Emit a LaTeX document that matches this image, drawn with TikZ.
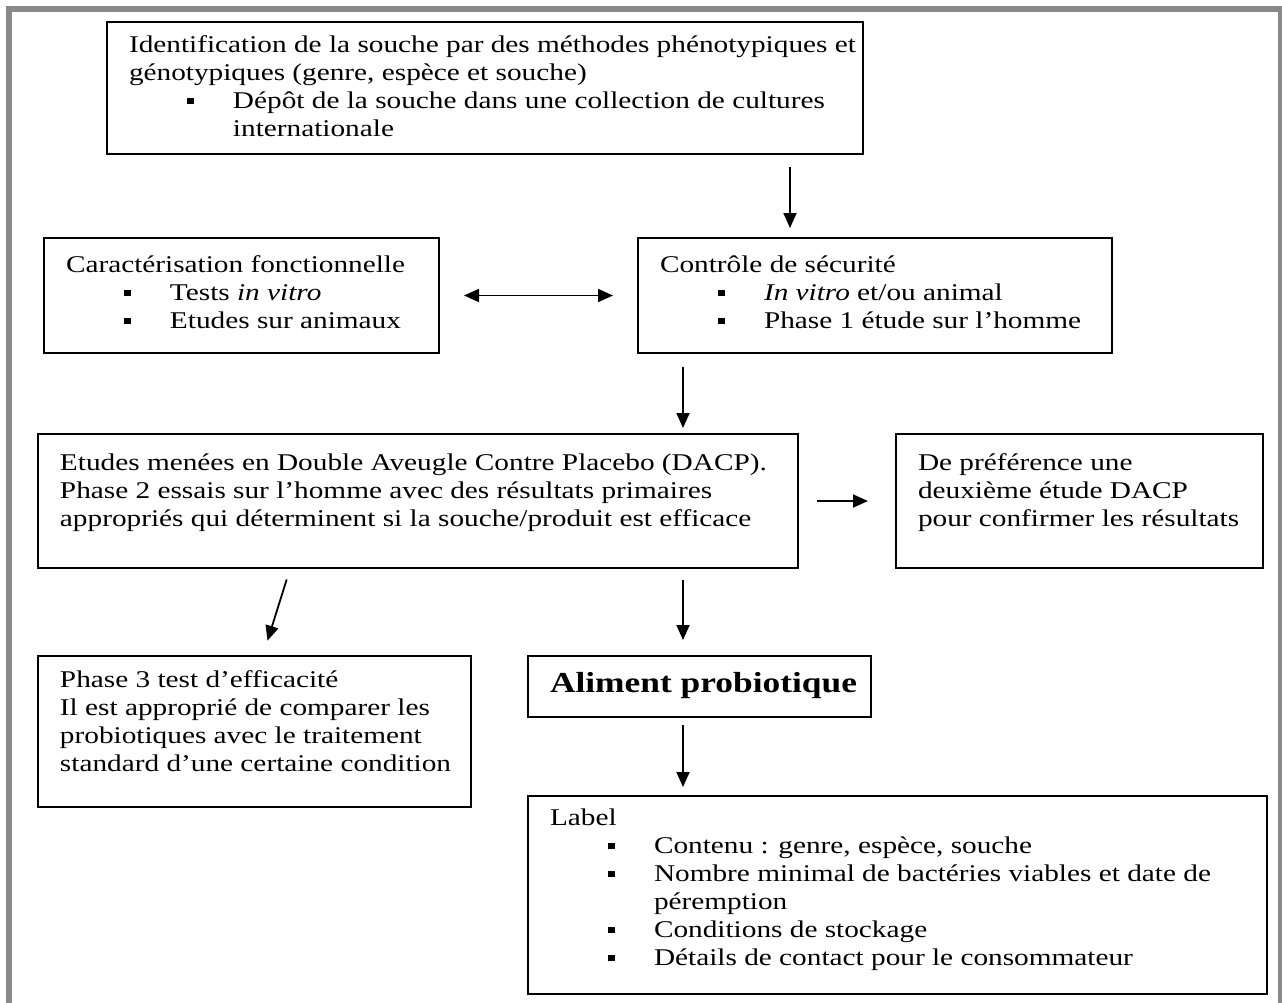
\documentclass[tikz,border=0pt]{standalone}
\usepackage{fontspec}
\setmainfont{Liberation Serif}[FakeStretch=1.22]
\usetikzlibrary{arrows.meta,calc}
\definecolor{framegray}{HTML}{898989}
% box content: width, height, first baseline, text
\newcommand{\boxtext}[4]{\begin{minipage}[c][#2][t]{#1}\fontsize{12}{14}\selectfont\leftskip=11pt\rule{0pt}{#3}#4\end{minipage}}
\newcommand{\bul}{\hspace*{29pt}\makebox[23pt][l]{\rule[1.8pt]{3.4pt}{3.4pt}}}
\newcommand{\cont}{\hspace*{52pt}}

\begin{document}
\begin{tikzpicture}[x=0.5pt,y=-0.5pt,>={Triangle[length=7.5pt,width=6.5pt]}]
    \tikzstyle{box}=[draw,line width=1pt,anchor=north west,inner sep=0pt]
    \tikzstyle{arr}=[->,line width=0.9pt]
    \useasboundingbox (0,0) rectangle (1282,1003);
    \draw[framegray,line width=3pt] (9,1020) -- (9,8.5) -- (1281,8.5) -- (1281,1020);
    % boxes
    \node[box] (ident) at (106,21) {\boxtext{378pt}{66pt}{15pt}{Identification de la souche par des méthodes phénotypiques et\par
      génotypiques (genre, espèce et souche)\par
      \bul Dépôt de la souche dans une collection de cultures\par
      \cont internationale}};
    \node[box] (carac) at (43,237) {\boxtext{197.5pt}{57.5pt}{17pt}{Caractérisation fonctionnelle\par
      \bul Tests \textit{in vitro}\par
      \bul Etudes sur animaux}};
    \node[box] (secu) at (637,237) {\boxtext{237pt}{57.5pt}{17pt}{Contrôle de sécurité\par
      \bul \textit{In vitro} et/ou animal\par
      \bul Phase 1 étude sur l'homme}};
    \node[box] (dacp) at (37,433) {\boxtext{380pt}{67pt}{18pt}{Etudes menées en Double Aveugle Contre Placebo (DACP).\par
      Phase 2 essais sur l’homme avec des résultats primaires\par
      appropriés qui déterminent si la souche/produit est efficace}};
    \node[box] (pref) at (895,433) {\boxtext{183.5pt}{67pt}{18pt}{De préférence une\par
      deuxième étude DACP\par
      pour confirmer les résultats}};
    \node[box] (phase3) at (37,655) {\boxtext{216.5pt}{75.5pt}{15.5pt}{Phase 3 test d’efficacité\par
      Il est approprié de comparer les\par
      probiotiques avec le traitement\par
      standard d’une certaine condition}};
    \node[box] (alim) at (527,655) {\boxtext{171.5pt}{30.5pt}{18pt}{\fontsize{14.5}{17}\selectfont\bfseries Aliment probiotique}};
    \node[box] (label) at (527,795) {\boxtext{369.5pt}{99pt}{14.5pt}{Label\par
      \bul Contenu : genre, espèce, souche\par
      \bul Nombre minimal de bactéries viables et date de\par
      \cont péremption\par
      \bul Conditions de stockage\par
      \bul Détails de contact pour le consommateur}};
    % arrows
    \draw[arr,shorten <=6pt,shorten >=4.5pt] ($(ident.south -| secu.north west)+(153,0)$) -- ($(secu.north west)+(153,0)$);
    \draw[<->,line width=0.9pt,shorten <=12pt,shorten >=12pt] (carac.east) -- (secu.west);
    \draw[arr,shorten <=6.5pt,shorten >=2.5pt] ($(secu.south west)+(46,0)$) -- ($(dacp.north -| secu.south west)+(46,0)$);
    \draw[arr,shorten <=9pt,shorten >=13.5pt] (dacp.east) -- (pref.west);
    \draw[arr,shorten <=5.5pt,shorten >=7.5pt] ($(dacp.south west)+(253,0)$) -- ($(phase3.north west)+(226,0)$);
    \draw[arr,shorten <=5.5pt,shorten >=7.5pt] ($(dacp.south west)+(646,0)$) -- ($(alim.north west)+(156,0)$);
    \draw[arr,shorten <=3.5pt,shorten >=4pt] ($(alim.south west)+(156,0)$) -- ($(label.north west)+(156,0)$);
\end{tikzpicture}
\end{document}
